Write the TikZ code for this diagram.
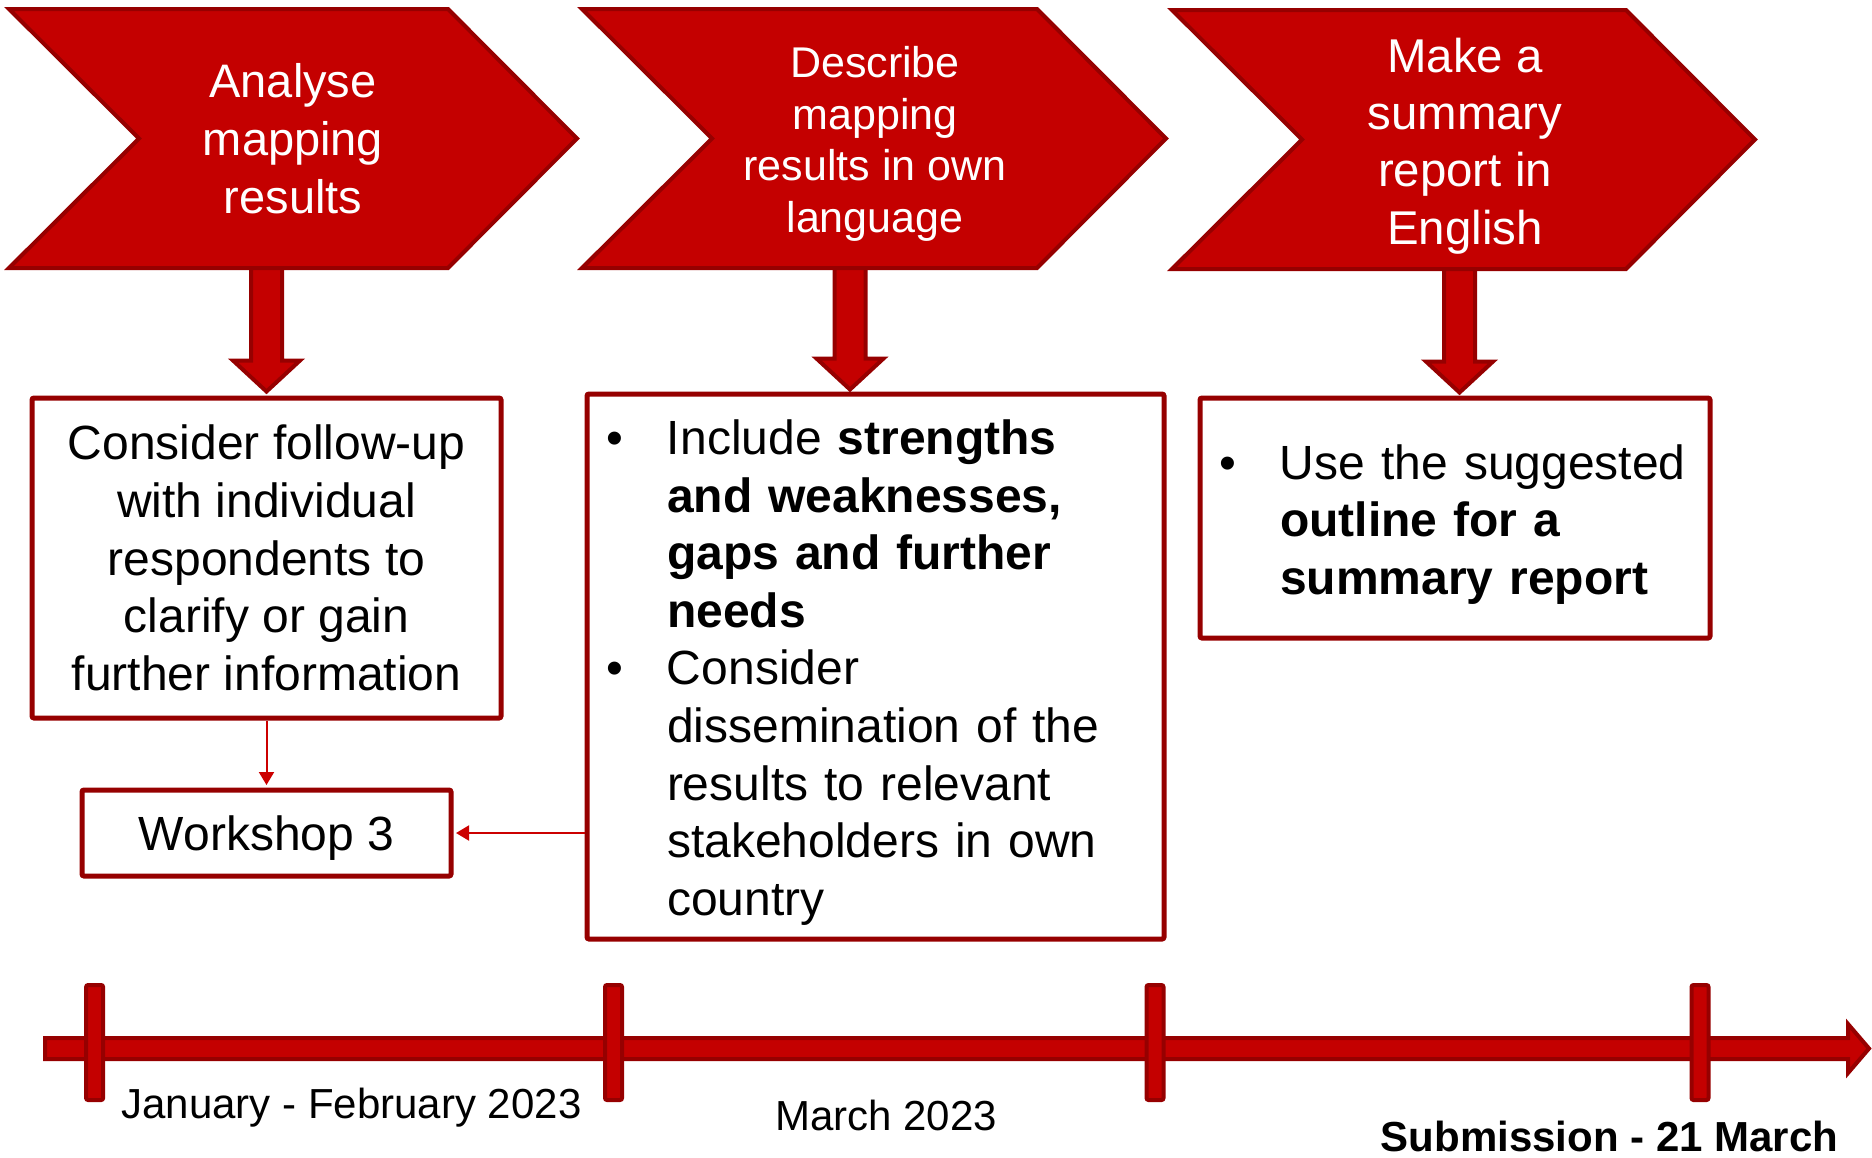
\documentclass[tikz,border=0pt]{standalone}
\usepackage{fontspec}
\setmainfont{Liberation Sans}
\usepackage{tikz}
\usetikzlibrary{arrows.meta}
\usetikzlibrary{positioning}
\definecolor{chevred}{HTML}{C40000}
\definecolor{rimred}{HTML}{960000}
\definecolor{linkred}{HTML}{CC0000}
\tikzset{chev/.style = {fill = chevred, draw = rimred, line width = 2pt}}
\tikzset{chevtext/.style = {text = white, align = center, inner sep = 0}}
\tikzset{infobox/.style = {draw = rimred, fill = white, line width = 2.5pt, rounded corners = 1pt, inner sep = 0, font = \fontsize{24}{28.8}\selectfont}}
\tikzset{bullettext/.style = {align = left, inner sep = 0, font = \fontsize{24}{28.8}\selectfont}}
\tikzset{downarr/.style = {fill = chevred, draw = rimred, line width = 2pt, line join = miter}}
\tikzset{tickbar/.style = {fill = chevred, draw = rimred, line width = 2pt, rounded corners = 1pt, inner sep = 0, minimum width = 8.5pt, minimum height = 57.5pt}}
\tikzset{link/.style = {draw = linkred, line width = 1pt, -{Triangle[width = 7.5pt, length = 6.5pt]}, shorten > = 1.25pt}}
\tikzset{datelabel/.style = {anchor = base, inner sep = 0, font = \fontsize{21}{25}\selectfont}}
\newcommand{\bitem}{\makebox[30.5pt][l]{\textbullet}}
\newcommand{\bcont}{\hspace*{30.5pt}}

\begin{document}
\begin{tikzpicture}[x = 1pt, y = -1pt]
  \useasboundingbox (0, 0) rectangle (936, 578.5);

  % boxes under the chevrons
  \node [infobox, minimum width = 234.5pt, minimum height = 160pt, align = center] (b1) at (133.25, 279) {Consider follow-up\\with individual\\respondents to\\clarify or gain\\further information};
  \node [infobox, minimum width = 288.5pt, minimum height = 272.5pt] (b2) at (437.75, 333.25) {};
  \node [bullettext, text width = 269.5pt] (b2t) at ([yshift = -3pt] b2.center) {\bitem Include \textbf{strengths}\\ \bcont\textbf{and weaknesses,}\\ \bcont\textbf{gaps and further}\\ \bcont\textbf{needs}\\ \bitem Consider\\ \bcont dissemination of the\\ \bcont results to relevant\\ \bcont stakeholders in own\\ \bcont country};
  \node [infobox, minimum width = 255pt, minimum height = 120pt] (b3) at (727.5, 259) {};
  \node [bullettext, text width = 236pt] (b3t) at ([yshift = -3.25pt] b3.center) {\bitem Use the suggested\\ \bcont\textbf{outline for a}\\ \bcont\textbf{summary report}};
  \node [infobox, minimum width = 184.5pt, minimum height = 43pt, text depth = 0pt] (ws) at (133.25, 416.5) {Workshop 3};

  \draw [link] (b1.south) -- (ws.north);
  \draw [link] (b2.west |- ws.east) -- (ws.east);

  % block arrows, drawn up from the tip
  \draw [downarr] ([yshift = 2pt] b1.north) -- ++(-16.75, -15.5) -- ++(9, 0) -- ++(0, -50) -- ++(15.5, 0) -- ++(0, 50) -- ++(9, 0) -- cycle;
  \draw [downarr] ([xshift = -12.75pt, yshift = 1pt] b2.north) -- ++(-16.75, -15.5) -- ++(9, 0) -- ++(0, -50) -- ++(15.5, 0) -- ++(0, 50) -- ++(9, 0) -- cycle;
  \draw [downarr] ([xshift = 2.25pt, yshift = 1.5pt] b3.north) -- ++(-16.75, -15.5) -- ++(9, 0) -- ++(0, -50) -- ++(15.5, 0) -- ++(0, 50) -- ++(9, 0) -- cycle;

  % chevrons
  \draw [chev] (4.5, 4.5) -- (224, 4.5) -- (288.5, 69.25) -- (224, 134) -- (4.5, 134) -- (69.5, 69.25) -- cycle;
  \draw [chev] (291, 4.5) -- (518.5, 4.5) -- (583, 69.25) -- (518.5, 134) -- (291, 134) -- (356, 69.25) -- cycle;
  \draw [chev] (586, 5) -- (813, 5) -- (877.5, 69.75) -- (813, 134.5) -- (586, 134.5) -- (651, 69.75) -- cycle;

  \node [chevtext, font = \fontsize{23.5}{29}\selectfont] (c1) at (146.5, 69.5) {Analyse\\mapping\\results};
  \node [chevtext, font = \fontsize{21.5}{25.8}\selectfont] (c2) at (437.5, 71.9) {Describe\\mapping\\results in own\\language};
  \node [chevtext, font = \fontsize{23.7}{28.7}\selectfont] (c3) at (732.5, 73) {Make a\\summary\\report in\\English};

  % time line
  \draw [chev] (22.5, 519) -- (924, 519) -- (924, 512) -- (934.5, 524.25) -- (924, 536.5) -- (924, 529.5) -- (22.5, 529.5) -- cycle;

  \node [tickbar] (t1) at (47.3, 521.25) {};
  \node [tickbar] (t2) at (306.75, 521.25) {};
  \node [tickbar] (t3) at (577.5, 521.25) {};
  \node [tickbar] (t4) at (850, 521.25) {};

  \node [datelabel] (d1) at (175.75, 559) {January - February 2023};
  \node [datelabel] (d2) at (443, 565.3) {March 2023};
  \node [datelabel, font = \fontsize{21}{25}\selectfont\bfseries] (d3) at (804.75, 575.5) {Submission - 21 March};
\end{tikzpicture}
\end{document}
